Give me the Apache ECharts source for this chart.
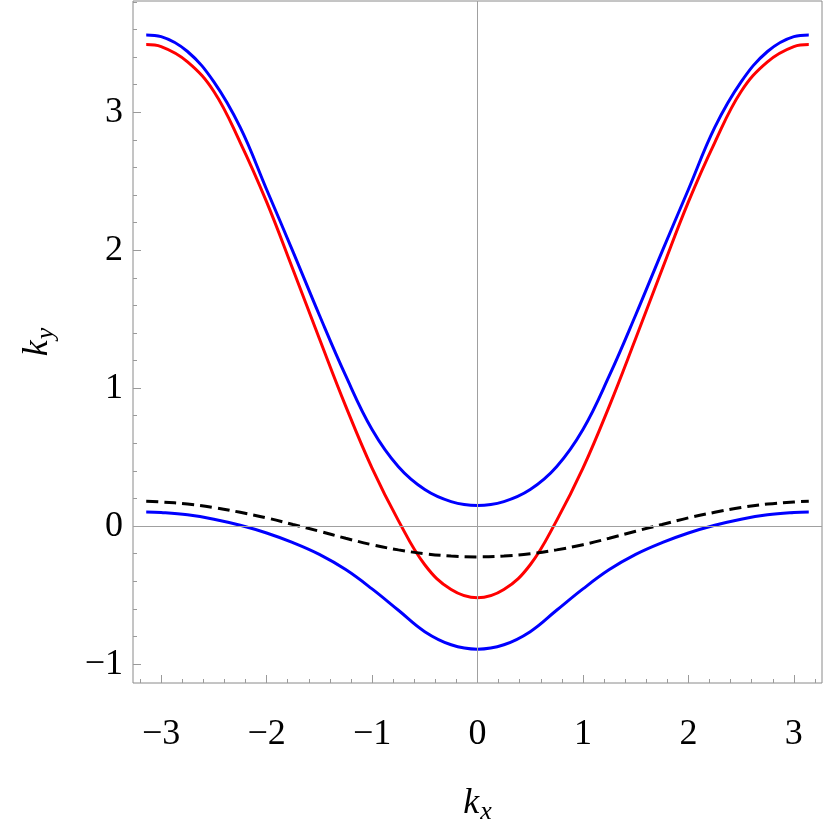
<!DOCTYPE html>
<html>
<head>
<meta charset="utf-8">
<script src="https://cdn.jsdelivr.net/npm/echarts@6/dist/echarts.min.js"></script>
<style>
  html, body { margin: 0; padding: 0; background: #fff; }
  #main { width: 830px; height: 830px; }
</style>
</head>
<body>
<div id="main"></div>
<script>
// k_x sample points
var kx = [-3.1416, -3, -2.75, -2.5, -2.25, -2, -1.75, -1.5, -1.25, -1, -0.75, -0.5, -0.25, 0,
  0.25, 0.5, 0.75, 1, 1.25, 1.5, 1.75, 2, 2.25, 2.5, 2.75, 3, 3.1416];

// upper blue curve
var blueTop = [3.56, 3.548, 3.44, 3.22, 2.89, 2.44, 1.99, 1.53, 1.09, 0.70, 0.43, 0.265, 0.178, 0.15,
  0.178, 0.265, 0.43, 0.70, 1.09, 1.53, 1.99, 2.44, 2.89, 3.22, 3.44, 3.548, 3.56];
// red curve
var red = [3.49, 3.475, 3.365, 3.15, 2.78, 2.35, 1.86, 1.36, 0.87, 0.42, 0.04, -0.28, -0.46, -0.52,
  -0.46, -0.28, 0.04, 0.42, 0.87, 1.36, 1.86, 2.35, 2.78, 3.15, 3.365, 3.475, 3.49];
// lower blue curve
var blueBottom = [0.103, 0.099, 0.082, 0.05, 0.006, -0.05, -0.12, -0.205, -0.315, -0.455, -0.61, -0.765, -0.86, -0.892,
  -0.86, -0.765, -0.61, -0.455, -0.315, -0.205, -0.12, -0.05, 0.006, 0.05, 0.082, 0.099, 0.103];
// black dashed curve
var dashed = [0.18, 0.175, 0.16, 0.135, 0.10, 0.06, 0.012, -0.037, -0.088, -0.135, -0.172, -0.20, -0.217, -0.223,
  -0.217, -0.20, -0.172, -0.135, -0.088, -0.037, 0.012, 0.06, 0.10, 0.135, 0.16, 0.175, 0.18];

// tick labels
var xTicks = [-3, -2, -1, 0, 1, 2, 3];
var yTicks = [-1, 0, 1, 2, 3];

var xMin = -3.267, xMax = 3.267;
var yMin = -1.137, yMax = 3.806;

function pairs(ys) {
  return kx.map(function (x, i) { return [x, ys[i]]; });
}
function minorList(a, b) {
  var out = [];
  for (var v = a; v <= b + 1e-9; v += 0.2) out.push(Math.round(v * 10) / 10);
  return out;
}
function fmt(v) {
  return v < 0 ? '\u2212' + Math.abs(v) : String(v);
}

var serif = "'Liberation Serif', 'DejaVu Serif', serif";
var frameGray = '#8a8a8a';
var tickGray = '#9a9a9a';

var myChart = echarts.init(document.getElementById('main'));

var option = {
  animation: false,
  backgroundColor: '#fff',
  grid: {
    left: 133, right: 8, top: 1, bottom: 142,
    show: true, borderColor: frameGray, borderWidth: 1, backgroundColor: 'transparent'
  },
  xAxis: [
    {
      type: 'value', min: xMin, max: xMax,
      position: 'bottom',
      axisLine: { show: false, onZero: false },
      splitLine: { show: false },
      axisTick: { inside: true, length: 8, customValues: xTicks, lineStyle: { color: tickGray } },
      axisLabel: {
        customValues: xTicks, formatter: fmt, margin: 34,
        fontFamily: serif, fontSize: 36, color: '#000'
      },
      name: '{k|k}{s|x}',
      nameLocation: 'middle',
      nameGap: 100,
      nameTextStyle: {
        rich: {
          k: { fontFamily: serif, fontStyle: 'italic', fontSize: 36, color: '#000' },
          s: { fontFamily: serif, fontStyle: 'italic', fontSize: 26, color: '#000', padding: [16, 0, 0, 1] }
        }
      }
    },
    {
      type: 'value', min: xMin, max: xMax,
      position: 'bottom',
      axisLine: { show: false, onZero: false },
      splitLine: { show: false },
      axisLabel: { show: false },
      axisTick: { inside: true, length: 4, customValues: minorList(-3.2, 3.2), lineStyle: { color: tickGray } }
    }
  ],
  yAxis: [
    {
      type: 'value', min: yMin, max: yMax,
      position: 'left',
      axisLine: { show: false, onZero: false },
      splitLine: { show: false },
      axisTick: { inside: true, length: 8, customValues: yTicks, lineStyle: { color: tickGray } },
      axisLabel: {
        customValues: yTicks, formatter: fmt, margin: 10,
        fontFamily: serif, fontSize: 36, color: '#000'
      },
      name: '{k|k}{s|y}',
      nameLocation: 'middle',
      nameGap: 74,
      nameRotate: 90,
      nameTextStyle: {
        rich: {
          k: { fontFamily: serif, fontStyle: 'italic', fontSize: 36, color: '#000' },
          s: { fontFamily: serif, fontStyle: 'italic', fontSize: 26, color: '#000', padding: [16, 0, 0, 1] }
        }
      }
    },
    {
      type: 'value', min: yMin, max: yMax,
      position: 'left',
      axisLine: { show: false, onZero: false },
      splitLine: { show: false },
      axisLabel: { show: false },
      axisTick: { inside: true, length: 4, customValues: minorList(-1, 3.8), lineStyle: { color: tickGray } }
    }
  ],
  series: [
    {
      name: 'axes',
      type: 'line',
      data: [],
      silent: true,
      markLine: {
        silent: true,
        symbol: ['none', 'none'],
        label: { show: false },
        lineStyle: { color: '#a0a0a0', width: 1, type: 'solid' },
        data: [{ xAxis: 0 }, { yAxis: 0 }]
      }
    },
    {
      name: 'blueTop', type: 'line', data: pairs(blueTop),
      smooth: 0.4, showSymbol: false,
      lineStyle: { color: '#0000ff', width: 3 }
    },
    {
      name: 'red', type: 'line', data: pairs(red),
      smooth: 0.4, showSymbol: false,
      lineStyle: { color: '#ff0000', width: 3 }
    },
    {
      name: 'blueBottom', type: 'line', data: pairs(blueBottom),
      smooth: 0.4, showSymbol: false,
      lineStyle: { color: '#0000ff', width: 3 }
    },
    {
      name: 'dashed', type: 'line', data: pairs(dashed),
      smooth: 0.4, showSymbol: false,
      lineStyle: { color: '#000', width: 3, type: [12, 6] }
    }
  ]
};

myChart.setOption(option);
</script>
</body>
</html>
